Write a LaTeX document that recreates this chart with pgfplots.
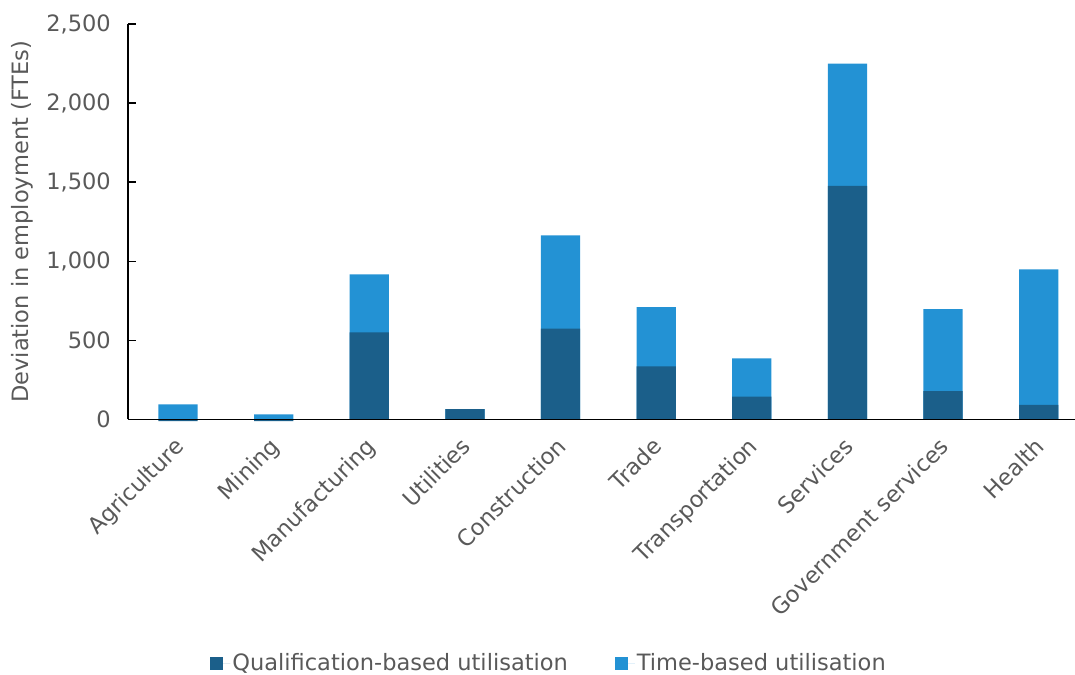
\documentclass[border=0pt]{standalone}
\usepackage{pgfplots}
\pgfplotsset{compat=1.18}
\usepackage{pgfplotstable}
\usepackage{fontspec}
\setmainfont{DejaVu Sans}

\definecolor{qualblue}{HTML}{1B5F8A}
\definecolor{timeblue}{HTML}{2392D4}
\definecolor{txtgray}{HTML}{595959}

% Deviation in employment (FTEs) by sector
% q: qualification-based utilisation, t: time-based utilisation
\pgfplotstableread{
idx q t
0 -10 96
1 -10 33
2 551 367
3 66 0
4 574 590
5 336 375
6 144 243
7 1476 773
8 180 517
9 92 857
}\sectors

\begin{document}
\begin{tikzpicture}[x=1bp,y=1bp]
\path[use as bounding box] (0,0) rectangle (1075,675);
\begin{axis}[
  scale only axis,
  width=947bp, height=395.5bp,
  at={(128bp,255.5bp)}, anchor=south west,
  font=\fontsize{22.6}{27}\selectfont,
  xmin=-0.523, xmax=9.38,
  ymin=0, ymax=2500,
  clip=false,
  axis on top,
  ybar, bar width=0.41,
  axis x line*=bottom,
  axis y line*=left,
  axis line style={black, line width=1.5bp},
  xtick={0,...,9},
  xticklabels={Agriculture,Mining,Manufacturing,Utilities,Construction,Trade,Transportation,Services,Government services,Health},
  major x tick style={draw=none},
  xticklabel style={rotate=45, anchor=north east, inner sep=1bp,
    xshift=-14bp, yshift=-7bp, text=txtgray},
  ytick={0,500,...,2500},
  scaled y ticks=false,
  /pgf/number format/assume math mode=true,
  /pgf/number format/1000 sep={,},
  tick align=inside,
  major tick length=8bp,
  major y tick style={black, line width=1.5bp},
  yticklabel style={anchor=east, inner sep=0pt, xshift=-17bp, text=txtgray},
  ylabel={Deviation in employment (FTEs)},
  ylabel style={at={(axis description cs:-0.112,0.5)}, anchor=center, text=txtgray},
  legend style={at={(axis description cs:0.4446,-0.6157)}, anchor=center,
    draw=none, fill=none, legend columns=2, text=txtgray,
    font=\fontsize{22.6}{27}\selectfont,
    /tikz/every even column/.append style={column sep=45bp}},
  legend image code/.code={\fill[#1] (0bp,-6.5bp) rectangle (13bp,6.5bp);
    \path (0bp,0bp) -- (20bp,0bp);},
]
\addlegendimage{fill=qualblue, draw=none}
\addlegendentry{Qualification-based utilisation}
\addlegendimage{fill=timeblue, draw=none}
\addlegendentry{Time-based utilisation}

% time-based part sits on top of the positive qualification-based part
\addplot[fill=timeblue, draw=none, bar shift=0pt, forget plot]
  table[x=idx, y expr={max(\thisrow{q},0)+\thisrow{t}}] {\sectors};
\addplot[fill=qualblue, draw=none, bar shift=0pt, forget plot]
  table[x=idx, y=q] {\sectors};
\end{axis}
\end{tikzpicture}
\end{document}
